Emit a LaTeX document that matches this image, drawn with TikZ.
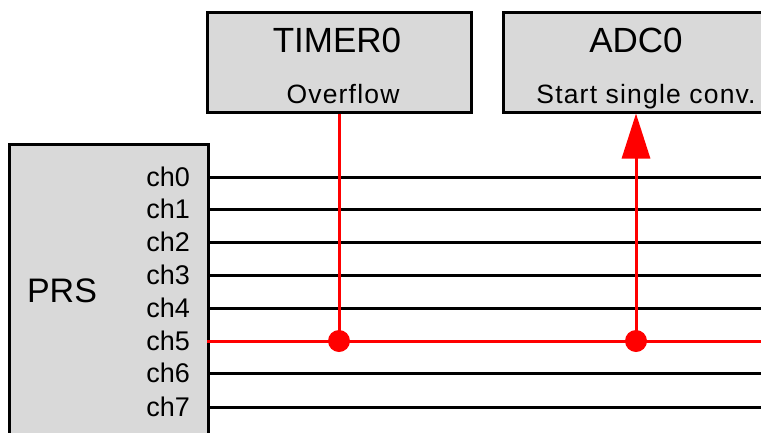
\documentclass[tikz,border=0pt]{standalone}
\usepackage{fontspec}
\setmainfont{Liberation Sans}
\newfontfamily\spacedfont[LetterSpace=4.5]{Liberation Sans}
\usetikzlibrary{arrows.meta}
\definecolor{boxgray}{HTML}{D9D9D9}
\definecolor{sigred}{HTML}{FF0000}
\begin{document}
\begin{tikzpicture}[x=1pt,y=-1pt,
  blk/.style={draw=black, line width=3pt, fill=boxgray, rectangle, inner sep=0pt},
  title/.style={anchor=base, inner sep=0pt, font=\fontsize{35}{40}\selectfont},
  sub/.style={anchor=base, inner sep=0pt, font=\spacedfont\fontsize{26.5}{30}\selectfont},
  chlab/.style={anchor=base east, inner sep=0pt, font=\fontsize{27}{30}\selectfont},
  chline/.style={draw=black, line width=3pt},
  redline/.style={draw=sigred, line width=3pt},
  dotn/.style={circle, fill=sigred, inner sep=0pt, minimum size=22pt}
]
\useasboundingbox (0,0) rectangle (761,432);
\begin{scope}
\clip (0,0) rectangle (761,432);
% boxes
\node[blk, minimum width=264pt, minimum height=100pt] (timer) at (339,62) {};
\node[blk, minimum width=264pt, minimum height=100pt] (adc) at (635,62) {};
\node[blk, minimum width=199pt, minimum height=320pt, anchor=north west] (prs) at (8,143) {};
% box texts
\node[title] (ttimer) at (337,52) {TIMER0};
\node[sub] (tover) at (343,103) {Overflow};
\node[title] (tadc) at (636,52) {ADC0};
\node[sub] (tstart) at (646,103) {Start single conv.};
\node[anchor=base, inner sep=0pt, font=\fontsize{34}{40}\selectfont] (tprs) at (62,302) {PRS};
% channels
\foreach \i/\y in {0/177,1/209,2/242,3/275,4/308,5/341,6/373,7/407}{
  \coordinate (l\i) at (207,\y);
  \coordinate (r\i) at (764,\y);
  \node[chlab] (lab\i) at (190,\y+9) {ch\i};
}
\foreach \i in {0,1,2,3,4,6,7}{
  \draw[chline] (l\i) -- (r\i);
}
\draw[redline] (l5) -- (r5);
% junctions
\node[dotn] (j1) at (339,341) {};
\node[dotn] (j2) at (636,341) {};
\draw[redline] (timer.south) -- (j1.center);
\draw[redline, -{Triangle[length=45pt, width=28pt]}] (j2.center) -- (adc.south -| j2);
\end{scope}
\end{tikzpicture}
\end{document}
